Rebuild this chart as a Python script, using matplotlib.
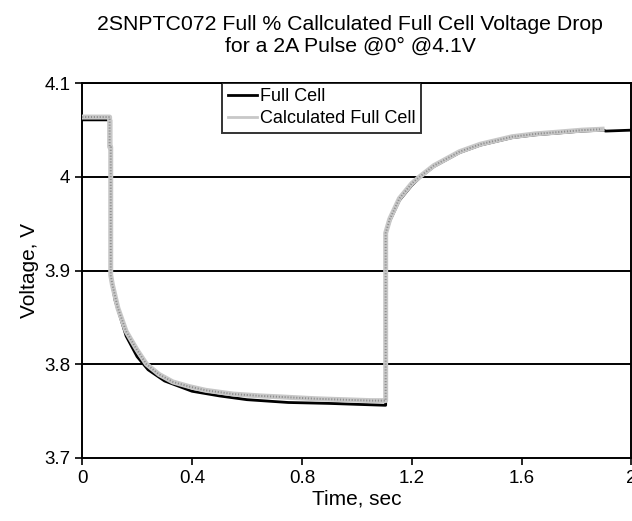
import matplotlib
matplotlib.use("Agg")
import matplotlib.pyplot as plt

plt.rcParams['font.family'] = ['Liberation Sans', 'DejaVu Sans']

# Full Cell (measured)
t_full = [0, 0.104, 0.104, 0.12, 0.16, 0.20, 0.24, 0.30, 0.40, 0.50, 0.60, 0.75,
          0.90, 1.00, 1.105, 1.105, 1.12, 1.155, 1.20, 1.228, 1.28, 1.374, 1.45,
          1.566, 1.65, 1.737, 1.82, 1.90, 1.905, 2.0]
v_full = [4.061, 4.061, 3.893, 3.868, 3.830, 3.808, 3.794, 3.782, 3.771, 3.766, 3.762, 3.759,
          3.758, 3.757, 3.756, 3.940, 3.953, 3.975, 3.991, 3.999, 4.011, 4.026, 4.034,
          4.042, 4.045, 4.047, 4.049, 4.050, 4.049, 4.050]

# Calculated Full Cell
t_calc = [0, 0.100, 0.100, 0.104, 0.104, 0.11, 0.13, 0.16, 0.20, 0.234, 0.28, 0.33,
          0.39, 0.45, 0.55, 0.65, 0.72, 0.85, 0.95, 1.05, 1.105, 1.105, 1.12, 1.155,
          1.20, 1.228, 1.28, 1.374, 1.45, 1.566, 1.65, 1.737, 1.82, 1.893]
v_calc = [4.064, 4.064, 4.032, 4.032, 3.895, 3.885, 3.860, 3.835, 3.815, 3.800, 3.789, 3.781,
          3.776, 3.772, 3.768, 3.766, 3.765, 3.763, 3.762, 3.761, 3.761, 3.940, 3.955, 3.977,
          3.993, 4.000, 4.012, 4.027, 4.035, 4.043, 4.046, 4.048, 4.050, 4.051]

xticks = [0, 0.4, 0.8, 1.2, 1.6, 2]
xticklabels = ['0', '0.4', '0.8', '1.2', '1.6', '2']
yticks = [3.7, 3.8, 3.9, 4.0, 4.1]
yticklabels = ['3.7', '3.8', '3.9', '4', '4.1']

fig = plt.figure(figsize=(6.32, 5.21), dpi=100)
ax = fig.add_axes([0.130, 0.1215, 0.8692, 0.7185])

for y in yticks[1:]:
    ax.axhline(y, color='black', lw=1.4, zorder=1)

ax.plot(t_full, v_full, color='black', lw=2.0, label='Full Cell', zorder=3)
ax.plot(t_calc, v_calc, color='#c8c8c8', lw=3.6, zorder=4,
        label='Calculated Full Cell')
ax.plot(t_calc, v_calc, color='#8f8f8f', lw=1.4, ls=(0, (0.6, 0.9)), zorder=5)

ax.set_xlim(0, 2)
ax.set_ylim(3.7, 4.1)
ax.set_xticks(xticks)
ax.set_xticklabels(xticklabels)
ax.set_yticks(yticks)
ax.set_yticklabels(yticklabels)
ax.tick_params(direction='out', length=5, width=1.2, labelsize=13.5, color='black')
ax.tick_params(axis='x', pad=4)
for s in ax.spines.values():
    s.set_color('black')
    s.set_linewidth(1.4)

ax.set_xlabel('Time, sec', fontsize=15, labelpad=2)
ax.set_ylabel('Voltage, V', fontsize=15, labelpad=4)
fig.text(0.554, 0.972, '2SNPTC072 Full % Callculated Full Cell Voltage Drop\nfor a 2A Pulse @0° @4.1V',
         fontsize=15.3, ha='center', va='top', linespacing=1.2)

leg = ax.legend(loc='upper left', bbox_to_anchor=(0.255, 1.002), fontsize=13,
                frameon=True, fancybox=False, handlelength=1.6, handletextpad=0.2,
                borderpad=0.3, labelspacing=0.3, borderaxespad=0)
leg.get_frame().set_edgecolor('black')
leg.get_frame().set_linewidth(1.4)
leg.get_lines()[1].set_linewidth(2.0)

fig.savefig('out.png', dpi=100)
